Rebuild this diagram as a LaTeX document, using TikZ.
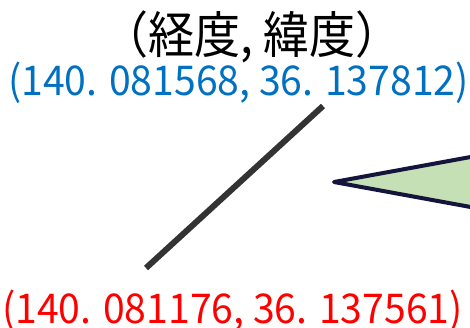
\documentclass[tikz,border=0pt]{standalone}
\usepackage{fontspec}
\usepackage{graphicx}
\setmainfont{Noto Sans CJK JP}
\definecolor{blueTxt}{HTML}{0070C0}
\definecolor{redTxt}{HTML}{FF0000}
\definecolor{lineGray}{HTML}{333333}
\definecolor{navy}{HTML}{14143C}
\definecolor{leafGreen}{HTML}{C5E0B4}
\tikzset{
  lbl/.style={inner sep=0pt, anchor=base},
  coordtxt/.style={lbl, font=\fontsize{41}{41}\selectfont},
  titletxt/.style={lbl, font=\fontsize{50}{50}\selectfont, text=black},
}
\begin{document}
\begin{tikzpicture}[x=1pt, y=-1pt]
\useasboundingbox (0,0) rectangle (470,327);
\begin{scope}
\clip (0,0) rectangle (470,327);
\node[titletxt] (title) at (252,53) {\scalebox{0.92}[1]{（経度, 緯度）}};
\node[coordtxt, text=blueTxt] (blue) at (238.5,95) {\scalebox{0.955}[1]{(140. 081568, 36. 137812)}};
\node[coordtxt, text=redTxt] (red) at (232.5,323) {\scalebox{0.955}[1]{(140. 081176, 36. 137561)}};
\coordinate (lineA) at (146,268);
\coordinate (lineB) at (323,106);
\draw[lineGray, line width=6pt] (lineA) -- (lineB);
\coordinate (apex) at (334,182);
\coordinate (tUp) at (476,156);
\coordinate (tDn) at (476,208);
\draw[navy, fill=leafGreen, line width=4pt, line join=round] (apex) -- (tUp) -- (tDn) -- cycle;
\end{scope}
\end{tikzpicture}
\end{document}
